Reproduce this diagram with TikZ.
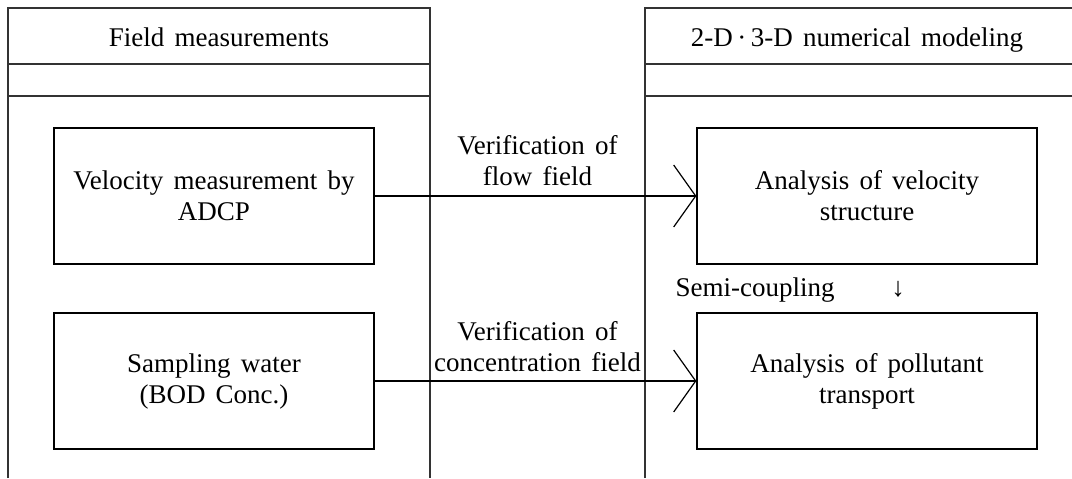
\documentclass[tikz,border=0pt]{standalone}
\usepackage{fontspec}
\setmainfont[WordSpace=1.5]{Liberation Serif}
\usetikzlibrary{arrows.meta, positioning}
\tikzset{>={Straight Barb[length=11pt, width=31pt]}}
\tikzset{
    txt/.style={font=\fontsize{13.5}{15.5}\selectfont, align=center, inner sep=0pt},
    taskbox/.style={txt, draw, minimum width=160pt, minimum height=68pt},
    frame/.style={line width=0.6pt, black!80}
}

\begin{document}
\begin{tikzpicture}[x=0.5pt, y=-0.5pt, line width=0.6pt]
    \useasboundingbox (0,0) rectangle (1072,478);
    % the two columns, open at the bottom
    \draw[frame] (8,478) -- (8,8) -- (430,8) -- (430,478);
    \draw[frame] (8,64) -- (430,64) (8,96) -- (430,96);
    \draw[frame] (645,478) -- (645,8) -- (1072,8);
    \draw[frame] (645,64) -- (1072,64) (645,96) -- (1072,96);
    \node[txt, anchor=base] (fieldhead) at (219,46) {Field measurements};
    \node[txt, anchor=base] (modelhead) at (857,46) {2-D\,·\,3-D numerical modeling};

    % boxes
    \node[taskbox] (adcp) at (214,196) {Velocity measurement by\\ADCP};
    \node[taskbox] (water) at (214,381) {Sampling water\\(BOD Conc.)};
    \node[taskbox, minimum width=170pt] (velo) at (867,196) {Analysis of velocity\\structure};
    \node[taskbox, minimum width=170pt] (pollu) at (867,381) {Analysis of pollutant\\transport};

    % verification links
    \draw[->] (adcp) -- (velo);
    \draw[->] (water) -- (pollu);
    \node[txt, anchor=south] (flowlab) at (537.5,186) {Verification of\\flow field};
    \node[txt, anchor=south] (conclab) at (537.5,372) {Verification of\\concentration field};

    \node[txt, anchor=base] (semi) at (755,296) {Semi-coupling};
    \node[txt, anchor=base] (down) at (898,296) {↓};
\end{tikzpicture}
\end{document}
